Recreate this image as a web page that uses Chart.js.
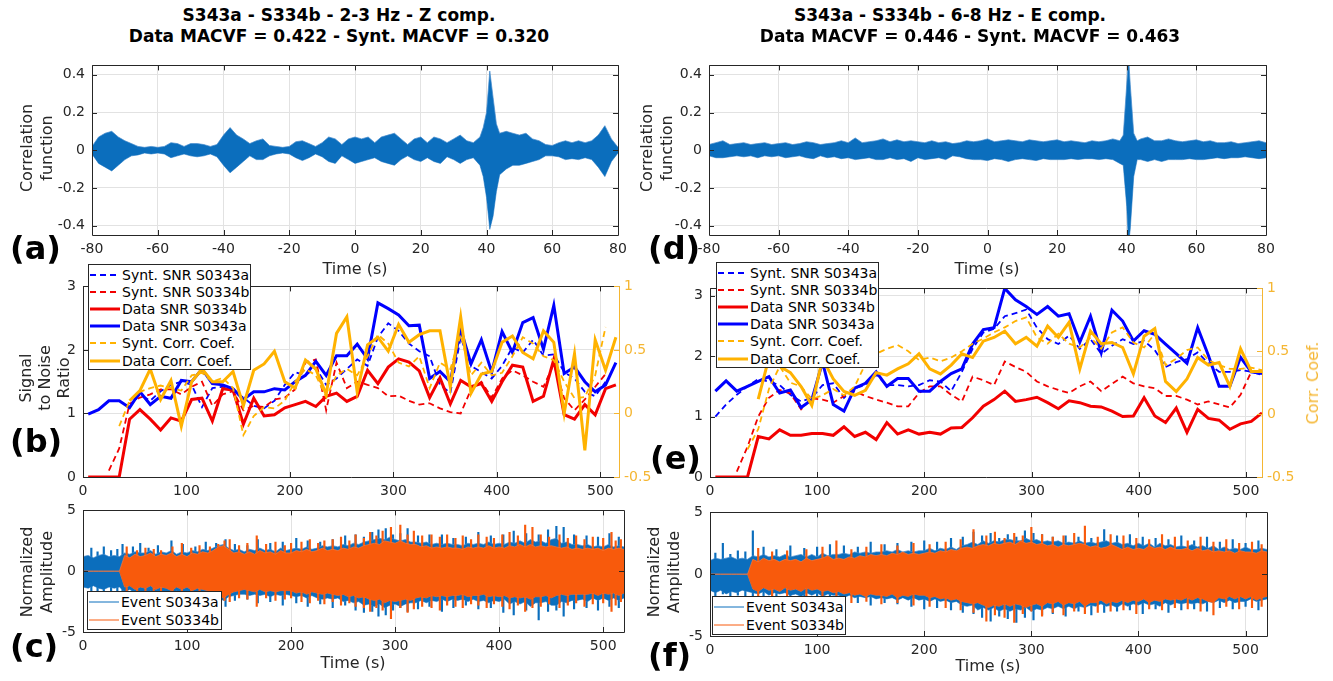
<!DOCTYPE html>
<html>
<head>
<meta charset="utf-8">
<script src="https://cdn.jsdelivr.net/npm/chart.js@4.4.1/dist/chart.umd.min.js"></script>
<style>
  body { margin:0; width:1333px; height:681px; position:relative; overflow:hidden; background:#fff;
         font-family:"DejaVu Sans", sans-serif; color:#000; }
  .cv { position:absolute; }
  .t { position:absolute; white-space:nowrap; z-index:5; }
  .title { font-weight:bold; font-size:17px; transform:translateX(-50%); }
  .plab { font-weight:bold; font-size:32px; transform:translateY(-50%); }
  .ylab { font-size:16px; line-height:20px; text-align:center; transform:translate(-50%,-50%) rotate(-90deg); color:#262626; }
  .xlab { font-size:16px; transform:translate(-50%,-50%); color:#262626; }
  .leg { position:absolute; z-index:6; background:#fff; border:1px solid #262626; box-sizing:border-box;
         font-size:14px; color:#000; padding-top:1px; }
  .row { display:flex; align-items:center; white-space:nowrap; }
  .row svg { margin:0 2px 0 1px; flex:none; }
</style>
</head>
<body>

<div class="t title" style="left:339px;top:5px">S343a - S334b - 2-3 Hz - Z comp.</div>
<div class="t title" style="left:339px;top:26px">Data MACVF = 0.422 - Synt. MACVF = 0.320</div>
<div class="t title" style="left:950px;top:5px">S343a - S334b - 6-8 Hz - E comp.</div>
<div class="t title" style="left:970px;top:26px">Data MACVF = 0.446 - Synt. MACVF = 0.463</div>

<div class="t plab" style="left:10px;top:248px">(a)</div>
<div class="t plab" style="left:10px;top:441px">(b)</div>
<div class="t plab" style="left:10px;top:646px">(c)</div>
<div class="t plab" style="left:648px;top:248px">(d)</div>
<div class="t plab" style="left:650px;top:458px">(e)</div>
<div class="t plab" style="left:648px;top:655px">(f)</div>

<div class="t ylab" style="left:37px;top:148px">Correlation<br>function</div>
<div class="t ylab" style="left:657px;top:148px">Correlation<br>function</div>
<div class="t ylab" style="left:44px;top:378px;line-height:19px">Signal<br>to Noise<br>Ratio</div>
<div class="t ylab" style="left:1313px;top:383px;color:rgb(245,182,50)">Corr. Coef.</div>
<div class="t ylab" style="left:37px;top:572px">Normalized<br>Amplitude</div>
<div class="t ylab" style="left:664px;top:572px">Normalized<br>Amplitude</div>

<div class="t xlab" style="left:355px;top:268px">Time (s)</div>
<div class="t xlab" style="left:987px;top:268px">Time (s)</div>
<div class="t xlab" style="left:353px;top:662px">Time (s)</div>
<div class="t xlab" style="left:988px;top:665px">Time (s)</div>

<script>
// ---------- correlation functions (envelope of the trace, upper / lower) ----------
const corrTimesA = [-80,-78,-76,-74,-72,-70,-68,-66,-64,-62,-60,-58,-56,-54,-52,-50,-48,-46,-44,-42,
  -40,-38,-36,-34,-32,-30,-28,-26,-24,-22,-20,-18,-16,-14,-12,-10,-8,-6,-4,-2,
  0,2,4,6,8,10,12,14,16,18,20,22,24,26,28,30,32,34,36,38,
  39,40,41,42,43,44,46,48,50,52,54,56,58,60,62,64,66,68,70,72,74,76,78,80];
const corrUpperA = [0.02,0.07,0.09,0.1,0.07,0.05,0.035,0.02,0.015,0.02,
  0.015,0.02,0.04,0.035,0.02,0.035,0.035,0.03,0.02,0.03,
  0.08,0.12,0.08,0.06,0.035,0.05,0.06,0.025,0.02,0.015,
  0.02,0.045,0.05,0.035,0.02,0.04,0.07,0.06,0.03,0.06,
  0.07,0.06,0.07,0.04,0.07,0.08,0.09,0.06,0.03,0.06,
  0.07,0.04,0.07,0.06,0.04,0.06,0.08,0.05,0.04,0.07,
  0.12,0.2,0.42,0.28,0.14,0.09,
  0.1,0.09,0.08,0.09,0.06,0.05,0.03,0.025,0.04,0.05,0.04,0.05,0.04,0.05,0.08,0.13,0.06,0.015];
const corrLowerA = [-0.02,-0.07,-0.09,-0.11,-0.08,-0.05,-0.03,-0.025,-0.015,-0.02,
  -0.015,-0.02,-0.04,-0.03,-0.02,-0.03,-0.035,-0.03,-0.02,-0.035,
  -0.08,-0.12,-0.09,-0.06,-0.03,-0.05,-0.05,-0.03,-0.02,-0.015,
  -0.02,-0.04,-0.055,-0.04,-0.02,-0.035,-0.06,-0.07,-0.03,-0.05,
  -0.07,-0.06,-0.05,-0.04,-0.06,-0.07,-0.08,-0.05,-0.03,-0.05,
  -0.06,-0.04,-0.06,-0.07,-0.035,-0.05,-0.07,-0.05,-0.04,-0.08,
  -0.14,-0.25,-0.42,-0.35,-0.22,-0.13,
  -0.1,-0.08,-0.08,-0.07,-0.06,-0.05,-0.03,-0.03,-0.035,-0.05,-0.045,-0.05,-0.04,-0.05,-0.09,-0.14,-0.06,-0.015];

const corrTimesD = [-80,-78,-76,-74,-72,-70,-68,-66,-64,-62,-60,-58,-56,-54,-52,-50,-48,-46,-44,-42,
  -40,-38,-36,-34,-32,-30,-28,-26,-24,-22,-20,-18,-16,-14,-12,-10,-8,-6,-4,-2,
  0,2,4,6,8,10,12,14,16,18,20,22,24,26,28,30,32,34,36,38,
  39,40,40.5,41,42,43,44,46,48,50,52,54,56,58,60,62,64,66,68,70,72,74,76,78,80];
const corrUpperD = [0.03,0.04,0.05,0.03,0.035,0.04,0.03,0.035,0.04,0.03,
  0.035,0.04,0.03,0.035,0.045,0.04,0.03,0.035,0.04,0.05,
  0.04,0.065,0.04,0.045,0.05,0.06,0.045,0.055,0.045,0.05,
  0.045,0.04,0.05,0.04,0.045,0.035,0.04,0.05,0.045,0.05,
  0.06,0.045,0.05,0.055,0.05,0.045,0.055,0.05,0.045,0.05,
  0.055,0.045,0.05,0.045,0.04,0.05,0.045,0.05,0.06,0.05,
  0.08,0.35,0.5,0.35,0.09,0.05,0.06,
  0.07,0.05,0.05,0.06,0.05,0.045,0.05,0.055,0.045,0.05,0.04,0.04,0.045,0.035,0.04,0.045,0.05,0.04];
const corrLowerD = [-0.03,-0.04,-0.04,-0.035,-0.03,-0.035,-0.03,-0.04,-0.03,-0.035,
  -0.03,-0.04,-0.035,-0.03,-0.04,-0.045,-0.03,-0.04,-0.035,-0.045,
  -0.04,-0.05,-0.045,-0.04,-0.05,-0.05,-0.04,-0.05,-0.045,-0.06,
  -0.04,-0.05,-0.045,-0.04,-0.05,-0.03,-0.035,-0.045,-0.05,-0.05,
  -0.055,-0.045,-0.05,-0.06,-0.05,-0.045,-0.05,-0.055,-0.045,-0.05,
  -0.05,-0.05,-0.045,-0.05,-0.045,-0.045,-0.05,-0.045,-0.05,-0.07,
  -0.08,-0.3,-0.5,-0.42,-0.14,-0.05,-0.05,
  -0.06,-0.05,-0.06,-0.05,-0.05,-0.05,-0.045,-0.05,-0.05,-0.045,-0.04,-0.045,-0.04,-0.04,-0.035,-0.04,-0.045,-0.04];

// ---------- SNR and correlation coefficient per window ----------
const snrTimes = [5,15,25,35,45,55,65,75,85,95,105,115,125,135,145,155,165,175,185,195,
  205,215,225,235,245,255,265,275,285,295,305,315,325,335,345,355,365,375,385,395,
  405,415,425,435,445,455,465,475,485,495,505,515];

// panel (b): 2-3 Hz, Z
const bSyntSnrA = [null,null,null,null,1.1,1.3,1.2,1.35,1.45,1.5,1.45,1.1,1.4,1.42,1.35,1.25,1.12,1.08,1.2,1.45,
  1.65,1.6,1.72,1.45,1.55,1.7,1.85,1.75,2.2,2.42,2.3,2.1,1.98,1.9,1.45,1.32,2.2,1.75,1.65,1.55,
  1.75,2.04,1.96,2.16,1.91,1.93,1.65,1.55,1.34,1.27,1.5,null];
const bSyntSnrB = [null,null,0.1,0.45,1.15,1.25,1.3,1.38,1.38,1.3,1.42,1.5,1.12,1.3,1.35,1.05,1.12,1.1,1.22,1.25,
  1.38,1.8,1.85,1.05,1.8,1.4,1.5,1.45,1.4,1.27,1.28,1.2,1.14,1.16,1.08,1.02,1.0,1.38,1.5,1.25,
  1.55,1.68,1.6,1.5,1.42,1.78,1.24,1.05,1.22,1.42,1.62,null];
const bDataSnrB = [0,0,0,0,0.91,1.06,0.91,0.74,0.93,0.88,1.22,1.24,0.88,1.39,1.37,0.83,1.24,0.96,0.98,1.09,
  1.14,1.19,1.11,1.27,1.32,1.19,1.27,1.68,1.47,1.73,1.86,1.81,1.67,1.25,1.56,1.15,1.52,1.42,1.47,1.19,
  1.5,1.76,1.73,1.19,1.27,1.85,0.98,0.91,1.14,0.98,1.39,1.45];
const bDataSnrA = [0.99,1.06,1.2,1.2,1.09,1.34,1.14,1.27,1.24,1.52,1.5,1.7,1.47,1.45,1.39,1.22,1.34,1.34,1.39,1.37,
  1.5,1.6,1.82,1.6,1.91,1.91,2.09,1.86,2.74,2.65,2.55,2.38,2.39,1.55,1.66,1.5,2.33,1.78,2.16,1.65,
  2.29,1.96,2.43,2.51,2.01,2.7,1.63,1.73,1.5,1.34,1.45,1.8];
const bSyntCorr = [null,null,null,-0.1,0.1,0.17,0.2,0.22,0.2,0.18,0.3,0.32,0.25,0.28,0.2,-0.17,-0.02,0.05,0.04,0.1,
  0.25,0.35,0.3,0.13,0.3,0.35,0.3,0.45,0.62,0.55,0.4,0.37,0.45,0.2,0.4,0.35,0.62,0.3,0.4,0.3,
  0.32,0.45,0.6,0.55,0.45,0.42,0.25,0.12,0.13,0.3,0.68,null];
const bDataCorr = [null,null,null,null,0.1,0.18,0.35,0.11,0.26,-0.1,0.25,0.35,0.25,0.25,0.33,0.06,0.34,0.39,0.49,0.25,
  0.2,0.42,0.35,0.15,0.63,0.76,0.17,0.54,0.6,0.49,0.7,0.56,0.62,0.65,0.65,0.21,0.76,0.16,0.31,0.33,
  0.56,0.61,0.48,0.43,0.65,0.56,0.0,0.47,-0.29,0.58,0.34,0.6];

// panel (e): 6-8 Hz, E
const eSyntSnrA = [1.0,1.2,1.36,1.5,1.62,1.58,1.52,1.36,1.25,1.31,1.52,1.55,1.31,1.47,1.52,1.69,1.52,1.52,1.5,1.52,
  1.6,1.58,1.42,1.74,2.12,2.39,2.45,2.66,2.71,2.77,2.47,2.28,2.2,2.34,2.12,2.28,2.04,2.17,2.28,2.2,
  2.25,2.1,1.82,1.9,1.95,2.06,1.88,1.74,1.74,1.77,1.74,1.69];
const eSyntSnrB = [null,null,0.09,0.5,1.0,1.31,1.44,1.38,1.12,1.3,1.28,1.23,1.34,1.42,1.34,1.28,1.23,1.17,1.17,1.39,
  1.5,1.5,1.36,1.25,1.66,1.6,1.52,1.91,1.82,1.74,1.58,1.5,1.44,1.39,1.5,1.58,1.42,1.54,1.66,1.55,
  1.5,1.47,1.34,1.34,1.28,1.2,1.25,1.2,1.15,1.36,1.74,null];
const eDataSnrB = [0,0,0,0,0.67,0.63,0.78,0.69,0.69,0.72,0.72,0.69,0.83,0.67,0.74,0.62,0.9,0.71,0.78,0.71,
  0.74,0.71,0.81,0.82,0.98,1.17,1.28,1.42,1.25,1.28,1.32,1.23,1.13,1.26,1.23,1.17,1.16,1.09,1.0,1.01,
  1.31,1.01,0.9,1.14,0.74,1.12,0.97,0.94,0.79,0.88,0.92,1.06];
const eDataSnrA = [1.42,1.59,1.42,1.5,1.58,1.66,1.39,1.44,1.15,1.28,1.9,1.2,1.09,1.47,1.55,1.74,1.5,1.63,1.63,1.42,
  1.42,1.58,1.71,1.79,2.2,2.44,2.47,3.12,2.93,2.82,2.69,2.82,2.66,2.7,2.23,2.66,2.06,2.76,2.58,2.25,
  2.42,2.36,2.2,2.04,1.88,2.47,2.01,1.5,1.5,1.98,1.74,1.71];
const eSyntCorr = [null,null,null,-0.28,-0.12,0.2,0.38,0.25,0.22,0.12,0.15,0.2,0.15,0.22,0.4,0.48,0.52,0.55,0.5,0.43,
  0.45,0.42,0.45,0.5,0.56,0.6,0.65,0.69,0.74,0.77,0.61,0.56,0.64,0.56,0.53,0.61,0.52,0.65,0.69,0.57,
  0.53,0.64,0.39,0.44,0.51,0.53,0.43,0.39,0.36,0.36,0.37,0.35];
const eDataCorr = [null,null,null,null,0.12,0.45,0.38,0.33,0.22,0.07,0.44,0.28,0.18,0.15,0.19,0.33,0.31,0.36,0.4,0.48,
  0.36,0.32,0.39,0.48,0.45,0.58,0.61,0.66,0.56,0.61,0.54,0.7,0.61,0.73,0.36,0.66,0.56,0.57,0.53,0.32,
  0.62,0.68,0.26,0.18,0.28,0.45,0.39,0.41,0.22,0.52,0.34,0.34];

// ---------- event records: body envelope (upper / lower) and isolated peaks ----------
const traceTimes = [0,5,10,15,20,25,30,35,40,45,50,55,60,65,70,75,80,85,90,95,100,105,110,115,120,125,130,135,
  140,145,150,155,160,165,170,175,180,185,190,195,200,205,210,215,220,225,230,235,240,245,250,255,260,265,270,275,
  280,285,290,295,300,305,310,315,320,325,330,335,340,345,350,355,360,365,370,375,380,385,390,395,400,405,410,415,
  420,425,430,435,440,445,450,455,460,465,470,475,480,485,490,495,500,505,510,515,520];

// (c) 2-3 Hz records
const cUpperA = [1.2,1.3,1.1,1.3,1.4,1.2,1.3,1.2, 1.5,1.4,1.6,1.5,1.5,1.7,1.4,1.6, 1.5,1.7,1.4,1.6,1.5,1.7,1.6,1.8,
  1.7,1.9,2.1,2.2,1.9,1.7,1.8,1.6, 1.8,1.7,1.9,1.7,1.8,1.6,1.9,1.7, 1.8,1.9,1.8,2.0,1.8,1.9,2.1,2.0,
  2.1,2.0,2.2,2.1,2.3,2.2,2.4,2.5, 2.6,2.7,2.6,2.8,2.6,2.5,2.6,2.4, 2.4,2.3,2.4,2.2,2.3,2.2,2.3,2.2,
  2.2,2.1,2.3,2.2,2.3,2.2,2.4,2.2, 2.3,2.2,2.4,2.3,2.5,2.3,2.6,2.4, 2.5,2.3,2.6,2.7,2.3,2.4,2.2,2.2,
  2.1,2.2,2.0,2.1,2.0,2.2,2.0,2.1, 2.0];
const cLowerA = [-1.3,-1.4,-1.2,-1.4,-1.5,-1.3,-1.4,-1.3, -1.7,-1.5,-1.8,-1.6,-1.9,-1.6,-1.8,-1.6, -1.7,-1.9,-1.6,-1.8,-1.7,-1.9,-1.7,-1.8,
  -1.9,-2.1,-2.2,-2.4,-2.1,-2.0,-1.9,-1.9, -2.0,-1.9,-2.0,-1.9,-2.1,-1.9,-2.0,-1.9, -2.0,-2.1,-2.0,-2.2,-2.0,-2.2,-2.3,-2.2,
  -2.3,-2.2,-2.5,-2.4,-2.6,-2.5,-2.8,-2.7, -2.9,-2.7,-3.0,-2.8,-2.7,-2.9,-2.7,-2.6, -2.6,-2.4,-2.6,-2.4,-2.5,-2.3,-2.5,-2.3,
  -2.4,-2.3,-2.5,-2.3,-2.5,-2.4,-2.6,-2.4, -2.5,-2.3,-2.7,-2.5,-2.7,-2.5,-2.9,-2.6, -2.6,-2.5,-2.8,-2.8,-2.5,-2.6,-2.4,-2.4,
  -2.3,-2.5,-2.2,-2.4,-2.2,-2.4,-2.2,-2.4, -2.2];
const cUpperB = [0,0,0,0,0,0,0,0, 1.3,1.1,1.4,1.2,1.3,1.5,1.2,1.4, 1.3,1.5,1.2,1.4,1.2,1.5,1.4,1.6,
  1.5,1.7,2.0,2.1,1.8,1.5,1.6,1.4, 1.6,1.4,1.7,1.5,1.6,1.4,1.7,1.5, 1.5,1.7,1.6,1.8,1.6,1.7,1.9,1.7,
  1.8,1.7,1.9,1.8,2.0,1.9,2.1,2.2, 2.3,2.2,2.5,2.4,2.3,2.5,2.3,2.2, 2.2,2.0,2.1,1.9,2.0,1.9,2.0,1.9,
  1.9,1.8,2.0,1.9,2.0,1.9,2.1,1.9, 2.0,1.9,2.1,2.0,2.2,2.0,2.2,2.0, 2.1,2.0,2.1,2.0,1.9,2.0,1.8,1.9,
  1.8,1.9,1.8,1.9,1.7,1.9,1.8,1.9, 1.8];
const cLowerB = [0,0,0,0,0,0,0,0, -1.3,-1.2,-1.5,-1.3,-1.4,-1.2,-1.5,-1.3, -1.4,-1.6,-1.3,-1.5,-1.3,-1.6,-1.4,-1.5,
  -1.6,-1.8,-2.0,-2.2,-1.9,-1.7,-1.6,-1.5, -1.6,-1.7,-1.5,-1.7,-1.6,-1.7,-1.6,-1.6, -1.6,-1.8,-1.7,-1.9,-1.7,-1.8,-1.9,-1.8,
  -1.9,-2.0,-1.9,-2.1,-2.0,-2.2,-2.1,-2.3, -2.4,-2.3,-2.6,-2.4,-2.5,-2.4,-2.3,-2.4, -2.2,-2.1,-2.2,-2.0,-2.1,-2.0,-2.1,-2.0,
  -2.0,-1.9,-2.1,-2.0,-2.0,-1.9,-2.1,-2.0, -2.1,-2.0,-2.2,-2.1,-2.2,-2.1,-2.3,-2.1, -2.1,-2.0,-2.2,-2.0,-1.9,-2.0,-1.9,-1.9,
  -1.9,-1.9,-1.8,-2.0,-1.8,-1.9,-1.8,-2.0, -1.8];
const cPeakTimesA = [8,14,20,27,33,38,48,55,63,72, 85,96,108,118,128,137,146,158,168,180,
  192,205,216,228,240,252,262,270,278,284, 291,298,305,312,322,333,345,356,368,380,
  392,404,414,426,438,447,455,462,472,484, 495,506,515];
const cPeakHighA = [1.9,1.6,2.0,1.7,1.8,2.2,2.0,2.3,1.9,2.1, 2.5,2.2,2.0,2.4,2.3,2.6,2.2,2.1,2.6,2.3,
  2.4,2.7,2.5,2.4,2.6,2.9,3.0,2.8,3.2,3.4, 3.5,3.0,3.1,3.5,2.9,3.0,3.0,2.7,2.8,3.2,
  2.9,3.0,3.3,3.1,3.0,3.4,3.7,3.6,3.0,2.9, 2.8,3.1,2.8];
const cPeakLowA = [-1.6,-2.0,-1.9,-1.7,-2.1,-1.8,-2.3,-2.5,-2.0,-2.2, -2.1,-2.4,-2.2,-2.6,-2.5,-2.9,-2.4,-2.3,-2.6,-2.5,
  -2.8,-2.6,-2.9,-2.7,-3.0,-2.8,-3.2,-3.4,-3.3,-3.7, -3.6,-3.2,-3.0,-3.3,-3.1,-2.9,-3.3,-3.0,-2.8,-3.1,
  -3.0,-3.4,-3.6,-3.2,-4.0,-3.3,-3.2,-3.7,-3.1,-3.0, -3.2,-2.9,-3.0];
const cPeakTimesB = [42,52,60,68,75,86,95,104,112,122, 130,136,141,150,158,167,176,185,194,200,
  210,218,226,232,240,248,256,262,270,276, 282,288,296,305,312,318,326,335,343,350,
  358,365,373,380,388,395,403,410,418,425, 432,440,448,458,466,474,482,490,500,508, 512,517];
const cPeakHighB = [2.0,1.7,1.9,1.8,1.7,2.0,2.3,1.9,2.1,2.0, 2.2,2.5,2.6,2.1,2.3,2.9,2.2,2.4,2.1,2.3,
  2.4,2.6,2.3,2.5,2.6,2.8,2.5,3.0,2.7,3.2, 2.9,3.3,3.6,3.8,3.0,3.3,2.9,3.0,2.8,3.0,
  2.7,2.9,2.6,3.0,2.8,2.7,3.0,3.2,2.9,3.8, 3.6,3.0,2.8,3.0,2.7,2.9,2.6,2.8,2.7,3.2, 2.5,2.6];
const cPeakLowB = [-1.8,-2.0,-1.7,-2.0,-1.8,-2.2,-2.0,-1.9,-2.2,-2.1, -2.0,-2.4,-2.5,-2.2,-2.3,-2.9,-2.2,-2.4,-2.3,-2.2,
  -2.5,-2.6,-2.4,-2.7,-2.5,-2.8,-2.6,-2.9,-3.0,-3.3, -3.0,-3.2,-3.9,-3.0,-3.4,-3.1,-2.9,-3.0,-3.2,-2.8,
  -2.9,-3.0,-2.7,-2.8,-3.0,-2.7,-2.9,-3.1,-2.8,-3.3, -3.0,-2.9,-2.7,-3.0,-2.8,-2.6,-2.9,-2.7,-2.6,-3.3, -2.8,-2.5];

// (f) 6-8 Hz records
const fUpperA = [1.1,1.3,1.2,1.3,1.4,1.2,1.3,1.2, 1.5,1.4,1.6,1.4,1.5,1.4,1.6,1.4, 1.5,1.6,1.4,1.6,1.4,1.7,1.5,1.6,
  1.6,1.7,1.6,1.8,1.7,1.8,1.7,1.8, 1.8,1.9,1.8,2.0,1.8,1.9,1.8,1.9, 1.9,2.1,1.9,2.1,2.0,2.2,2.0,2.3,
  2.4,2.6,2.4,2.7,2.5,2.7,2.6,2.8, 2.8,2.7,2.7,2.9,2.7,2.8,2.6,2.7, 2.6,2.7,2.5,2.6,2.5,2.7,2.5,2.6,
  2.5,2.6,2.7,2.5,2.6,2.4,2.5,2.3, 2.5,2.3,2.5,2.2,2.5,2.3,2.4,2.2, 2.3,2.2,2.4,2.2,2.3,2.1,2.3,2.0,
  2.2,2.0,2.1,2.0,2.2,2.0,2.0,2.1, 2.0];
const fLowerA = [-1.3,-1.5,-1.3,-1.6,-1.4,-1.5,-1.3,-1.4, -1.5,-1.6,-1.4,-1.7,-1.5,-1.6,-1.5,-1.7, -1.6,-1.8,-1.5,-1.7,-1.5,-1.8,-1.6,-1.7,
  -1.7,-1.9,-1.7,-1.9,-1.8,-1.9,-1.8,-2.0, -1.9,-2.0,-1.9,-2.1,-1.9,-2.1,-1.9,-2.1, -2.0,-2.2,-2.0,-2.2,-2.1,-2.3,-2.2,-2.5,
  -2.6,-2.5,-2.9,-2.7,-2.9,-2.7,-3.0,-2.8, -3.0,-2.8,-2.9,-2.7,-3.0,-2.8,-2.9,-2.7, -2.8,-2.6,-2.8,-2.6,-2.8,-2.6,-2.7,-2.5,
  -2.6,-2.4,-2.6,-2.5,-2.7,-2.4,-2.6,-2.4, -2.5,-2.3,-2.5,-2.4,-2.6,-2.3,-2.5,-2.3, -2.4,-2.3,-2.4,-2.3,-2.4,-2.2,-2.3,-2.1,
  -2.3,-2.1,-2.3,-2.2,-2.2,-2.0,-2.2,-2.1, -2.0];
const fUpperB = [0,0,0,0,0,0,0,0, 1.2,1.0,1.3,1.1,1.2,1.0,1.2,1.1, 1.2,1.0,1.3,1.1,1.2,1.3,1.5,1.2,
  1.3,1.2,1.4,1.3,1.5,1.4,1.6,1.5, 1.6,1.5,1.7,1.6,1.8,1.6,1.7,1.6, 1.7,1.8,1.7,1.9,1.8,2.0,1.9,2.1,
  2.2,2.1,2.3,2.4,2.3,2.5,2.4,2.5, 2.6,2.4,2.7,2.5,2.6,2.4,2.5,2.3, 2.4,2.2,2.4,2.3,2.4,2.5,2.4,2.2,
  2.3,2.1,2.2,2.4,2.2,2.0,2.2,2.0, 2.1,2.0,2.3,2.1,2.2,2.0,2.2,2.0, 2.0,2.1,1.9,2.1,1.9,2.0,1.8,1.9,
  1.8,1.9,1.7,1.9,1.8,1.8,1.7,1.9, 1.8];
const fLowerB = [0,0,0,0,0,0,0,0, -1.2,-1.4,-1.1,-1.3,-1.2,-1.4,-1.1,-1.3, -1.2,-1.4,-1.1,-1.3,-1.2,-1.4,-1.3,-1.5,
  -1.4,-1.6,-1.5,-1.7,-1.6,-1.8,-1.6,-1.7, -1.7,-1.8,-1.6,-1.9,-1.7,-1.8,-1.6,-1.7, -1.7,-1.9,-1.8,-2.0,-1.9,-2.1,-2.0,-2.2,
  -2.3,-2.4,-2.3,-2.5,-2.7,-2.5,-2.6,-2.4, -2.6,-2.4,-2.5,-2.7,-2.5,-2.4,-2.6,-2.3, -2.4,-2.2,-2.5,-2.3,-2.4,-2.2,-2.6,-2.3,
  -2.3,-2.1,-2.4,-2.2,-2.3,-2.1,-2.3,-2.1, -2.2,-2.0,-2.3,-2.1,-2.2,-2.0,-2.1,-2.0, -2.1,-1.9,-2.1,-1.9,-2.0,-2.2,-2.3,-1.9,
  -2.0,-1.8,-2.0,-1.8,-2.0,-1.8,-2.1,-1.9, -1.8];
const fPeakTimesA = [5,12,19,26,33,40,50,62,75,88, 100,112,125,138,150,163,175,188,200,212,
  225,236,246,254,262,270,278,286,294,302, 310,320,332,344,356,368,380,392,404,416,
  428,440,452,464,476,488,500,512];
const fPeakHighA = [1.7,2.5,1.6,1.9,1.8,3.5,2.2,2.0,2.3,2.1, 2.2,2.4,2.3,2.2,2.6,2.4,2.5,2.6,2.7,2.6,
  2.9,3.0,3.4,3.1,3.3,2.9,3.2,3.0,3.5,3.3, 3.2,3.0,3.1,3.0,2.9,3.6,3.1,3.2,3.0,2.9,
  2.8,3.1,2.7,3.0,2.6,2.8,2.5,2.7];
const fPeakLowA = [-1.8,-1.6,-2.0,-1.7,-1.9,-1.8,-2.3,-2.0,-2.2,-2.1, -2.3,-2.2,-2.4,-2.3,-2.5,-2.3,-2.4,-2.6,-2.8,-2.7,
  -2.9,-3.1,-3.2,-3.5,-3.8,-3.4,-3.6,-3.9,-3.5,-3.7, -3.3,-3.2,-3.4,-3.0,-3.3,-3.1,-3.0,-2.9,-3.2,-2.8,
  -3.1,-2.9,-2.8,-3.0,-2.7,-2.8,-2.6,-2.9];
const fPeakTimesB = [45,58,72,90,105,118,132,146,160,175, 190,205,220,234,246,258,266,275,284,292,
  300,310,320,330,340,350,362,374,386,398, 410,422,434,446,458,470,482,494,506,515];
const fPeakHighB = [2.1,1.8,1.9,2.0,2.2,2.7,2.0,2.2,2.4,2.3, 2.5,2.4,2.6,2.8,3.6,3.1,3.4,2.9,3.3,3.1,
  3.8,3.2,3.0,3.1,3.3,3.9,3.0,3.2,3.1,2.9, 2.8,3.2,3.0,2.7,3.0,2.6,2.8,2.5,2.6,2.4];
const fPeakLowB = [-2.0,-1.9,-2.1,-1.9,-2.2,-2.1,-2.3,-2.2,-2.4,-2.3, -2.5,-2.6,-2.7,-2.9,-3.1,-3.8,-3.3,-3.5,-3.9,-3.2,
  -3.0,-3.4,-3.1,-3.3,-3.0,-3.2,-3.1,-3.0,-2.9,-3.2, -2.8,-2.9,-2.7,-2.8,-3.0,-3.3,-2.6,-2.8,-2.7,-2.6];

// ---------- axis ticks ----------
const lagTicks = [-80,-60,-40,-20,0,20,40,60,80];
const corrTicks = [-0.4,-0.2,0,0.2,0.4];
const timeTicks = [0,100,200,300,400,500];
const snrTicks = [0,1,2,3];
const coefTicks = [-0.5,0,0.5,1];
const ampTicks = [-5,0,5];

// ---------- drawing ----------
Chart.defaults.font.family = '"DejaVu Sans", sans-serif';
Chart.defaults.font.size = 14;
Chart.defaults.color = '#262626';

const GRID = '#e2e2e2';
const AXIS = '#262626';
const BLUE = '#0000ff', RED = '#f20000', ORANGE = 'rgb(255,178,0)', ORANGE_AX = 'rgb(245,182,50)';
const WAVE_BLUE = '#0b6ebd', WAVE_BLUE_EDGE = 'rgba(70,140,205,0.9)';
const WAVE_ORANGE = '#f85a0c', WAVE_ORANGE_EDGE = 'rgba(250,120,60,0.9)';
const M = { l: 62, t: 12, r: 56, b: 32 };

const pts = (xs, ys) => xs.map((x, i) => ({ x, y: ys[i] }));
const fmt = v => String(v);

// box around the plot area with inward tick marks
const framePlugin = {
  id: 'frame',
  afterDraw(chart, args, opts) {
    const { ctx, chartArea: a, scales } = chart;
    const L = 5;
    const snap = v => Math.round(v) + 0.5;
    ctx.save();
    ctx.lineWidth = 1;
    ctx.strokeStyle = AXIS;
    ctx.beginPath();
    scales.x.ticks.forEach(t => {
      const p = snap(scales.x.getPixelForValue(t.value));
      ctx.moveTo(p, a.bottom); ctx.lineTo(p, a.bottom - L);
      ctx.moveTo(p, a.top); ctx.lineTo(p, a.top + L);
    });
    scales.y.ticks.forEach(t => {
      const p = snap(scales.y.getPixelForValue(t.value));
      ctx.moveTo(a.left, p); ctx.lineTo(a.left + L, p);
      if (!opts.right) { ctx.moveTo(a.right, p); ctx.lineTo(a.right - L, p); }
    });
    ctx.stroke();
    const l = snap(a.left), r = snap(a.right), t = snap(a.top), b = snap(a.bottom);
    ctx.beginPath();
    ctx.moveTo(r, t); ctx.lineTo(l, t); ctx.lineTo(l, b); ctx.lineTo(r, b);
    if (!opts.right) ctx.lineTo(r, t);
    ctx.stroke();
    if (opts.right) {
      ctx.strokeStyle = opts.right;
      ctx.beginPath();
      ctx.moveTo(r, t); ctx.lineTo(r, b);
      scales.y2.ticks.forEach(tk => {
        const p = snap(scales.y2.getPixelForValue(tk.value));
        ctx.moveTo(a.right, p); ctx.lineTo(a.right - L, p);
      });
      ctx.stroke();
    }
    ctx.restore();
  }
};

function panel(box, datasets, xs, ys, y2) {
  const cv = document.createElement('canvas');
  cv.className = 'cv';
  cv.width = box.r - box.l + M.l + M.r;
  cv.height = box.b - box.t + M.t + M.b;
  cv.style.left = (box.l - M.l) + 'px';
  cv.style.top = (box.t - M.t) + 'px';
  document.body.appendChild(cv);
  const useTicks = list => scale => { scale.ticks = list.map(v => ({ value: v })); };
  const scales = {
    x: {
      type: 'linear', min: xs.min, max: xs.max, offset: false,
      afterBuildTicks: useTicks(xs.ticks),
      afterFit: s => { s.height = M.b; },
      grid: { color: GRID, drawTicks: false, offset: false },
      border: { display: false },
      ticks: { padding: 6, maxRotation: 0, autoSkip: false, callback: fmt }
    },
    y: {
      type: 'linear', position: 'left', min: ys.min, max: ys.max,
      afterBuildTicks: useTicks(ys.ticks),
      afterFit: s => { s.width = M.l; },
      grid: { color: GRID, drawTicks: false },
      border: { display: false },
      ticks: { padding: 7, autoSkip: false, callback: fmt }
    }
  };
  if (y2) {
    scales.y2 = {
      type: 'linear', position: 'right', min: y2.min, max: y2.max,
      afterBuildTicks: useTicks(y2.ticks),
      afterFit: s => { s.width = M.r; },
      grid: { display: false, drawTicks: false },
      border: { display: false },
      ticks: { padding: 5, autoSkip: false, color: ORANGE_AX, callback: fmt }
    };
  }
  return new Chart(cv, {
    type: 'line',
    data: { datasets },
    options: {
      responsive: false, animation: false, devicePixelRatio: 1, events: [],
      layout: { padding: { top: M.t, left: 0, bottom: 0, right: y2 ? 0 : M.r } },
      elements: { point: { radius: 0 }, line: { tension: 0 } },
      plugins: { legend: { display: false }, tooltip: { enabled: false }, frame: { right: y2 ? ORANGE_AX : null } },
      scales
    },
    plugins: [framePlugin]
  });
}

function band(xs, upper, lower, fillColor, edgeColor) {
  return [
    { data: pts(xs, upper), borderColor: edgeColor, borderWidth: 0.8, backgroundColor: fillColor, fill: '+1' },
    { data: pts(xs, lower), borderColor: edgeColor, borderWidth: 0.8, fill: false }
  ];
}
// thin vertical strokes for the isolated large swings of a record
function peaks(times, lows, highs, color) {
  return {
    type: 'bar', grouped: false, barThickness: 1.5, borderWidth: 0, backgroundColor: color,
    data: times.map((t, i) => ({ x: t, y: [lows[i], highs[i]] }))
  };
}
function record(xs, up, lo, pt, pl, ph, fillColor, edgeColor) {
  return [...band(xs, up, lo, fillColor, edgeColor), peaks(pt, pl, ph, fillColor)];
}
function curve(xs, ys, color, width, dashed, axis) {
  return { data: pts(xs, ys), borderColor: color, borderWidth: width, borderDash: dashed ? [6, 4] : [],
           yAxisID: axis || 'y', fill: false, spanGaps: false };
}

const BOX = {
  a: { l: 92, t: 62, r: 618, b: 235 },
  d: { l: 709, t: 62, r: 1266, b: 235 },
  b: { l: 83, t: 283, r: 619, b: 477 },
  e: { l: 710, t: 285, r: 1262, b: 477 },
  c: { l: 83, t: 507, r: 624, b: 632 },
  f: { l: 710, t: 509, r: 1267, b: 636 }
};

// (a) and (d): cross-correlation functions
panel(BOX.a, band(corrTimesA, corrUpperA, corrLowerA, WAVE_BLUE, WAVE_BLUE_EDGE),
  { min: -80, max: 80, ticks: lagTicks }, { min: -0.45, max: 0.45, ticks: corrTicks });
panel(BOX.d, band(corrTimesD, corrUpperD, corrLowerD, WAVE_BLUE, WAVE_BLUE_EDGE),
  { min: -80, max: 80, ticks: lagTicks }, { min: -0.45, max: 0.45, ticks: corrTicks });

// (b) and (e): SNR (left axis) and correlation coefficient (right axis)
function snrSets(sA, sB, dB, dA, sC, dC) {
  return [
    curve(snrTimes, dC, ORANGE, 3, false, 'y2'),
    curve(snrTimes, sC, ORANGE, 1.8, true, 'y2'),
    curve(snrTimes, dA, BLUE, 3, false),
    curve(snrTimes, dB, RED, 3, false),
    curve(snrTimes, sB, RED, 1.8, true),
    curve(snrTimes, sA, BLUE, 1.8, true)
  ];
}
panel(BOX.b, snrSets(bSyntSnrA, bSyntSnrB, bDataSnrB, bDataSnrA, bSyntCorr, bDataCorr),
  { min: 0, max: 518, ticks: timeTicks }, { min: 0, max: 3, ticks: snrTicks },
  { min: -0.5, max: 1, ticks: coefTicks });
panel(BOX.e, snrSets(eSyntSnrA, eSyntSnrB, eDataSnrB, eDataSnrA, eSyntCorr, eDataCorr),
  { min: 0, max: 515, ticks: timeTicks }, { min: 0, max: 3.12, ticks: snrTicks },
  { min: -0.5, max: 1, ticks: coefTicks });

// (c) and (f): normalized event records, S0334b drawn over S0343a
panel(BOX.c, [...record(traceTimes, cUpperB, cLowerB, cPeakTimesB, cPeakLowB, cPeakHighB, WAVE_ORANGE, WAVE_ORANGE_EDGE),
              ...record(traceTimes, cUpperA, cLowerA, cPeakTimesA, cPeakLowA, cPeakHighA, WAVE_BLUE, WAVE_BLUE_EDGE)],
  { min: 0, max: 520, ticks: timeTicks }, { min: -5, max: 5, ticks: ampTicks });
panel(BOX.f, [...record(traceTimes, fUpperB, fLowerB, fPeakTimesB, fPeakLowB, fPeakHighB, WAVE_ORANGE, WAVE_ORANGE_EDGE),
              ...record(traceTimes, fUpperA, fLowerA, fPeakTimesA, fPeakLowA, fPeakHighA, WAVE_BLUE, WAVE_BLUE_EDGE)],
  { min: 0, max: 520, ticks: timeTicks }, { min: -5, max: 5, ticks: ampTicks });

// ---------- legends ----------
function sample(color, width, dashed) {
  return '<svg width="30" height="10"><line x1="0" y1="5" x2="30" y2="5" stroke="' + color +
    '" stroke-width="' + width + '"' + (dashed ? ' stroke-dasharray="6 4"' : '') + '/></svg>';
}
function legend(x, y, w, rowH, entries) {
  const el = document.createElement('div');
  el.className = 'leg';
  el.style.left = x + 'px'; el.style.top = y + 'px'; el.style.width = w + 'px';
  el.innerHTML = entries.map(e => '<div class="row" style="height:' + rowH + 'px">' +
    sample(e[1], e[2], e[3]) + '<span>' + e[0] + '</span></div>').join('');
  document.body.appendChild(el);
}
const snrLegend = [
  ['Synt. SNR S0343a', BLUE, 2, true],
  ['Synt. SNR S0334b', RED, 2, true],
  ['Data SNR S0334b', RED, 3, false],
  ['Data SNR S0343a', BLUE, 3, false],
  ['Synt. Corr. Coef.', ORANGE, 2, true],
  ['Data Corr. Coef.', ORANGE, 3, false]
];
legend(88, 264, 163, 17.2, snrLegend);
legend(716, 262, 163, 17.2, snrLegend);
const evLegend = [
  ['Event S0343a', WAVE_BLUE, 1, false],
  ['Event S0334b', WAVE_ORANGE, 1, false]
];
legend(87, 591, 135, 18, evLegend);
legend(712, 596, 134, 18, evLegend);
</script>
</body>
</html>
